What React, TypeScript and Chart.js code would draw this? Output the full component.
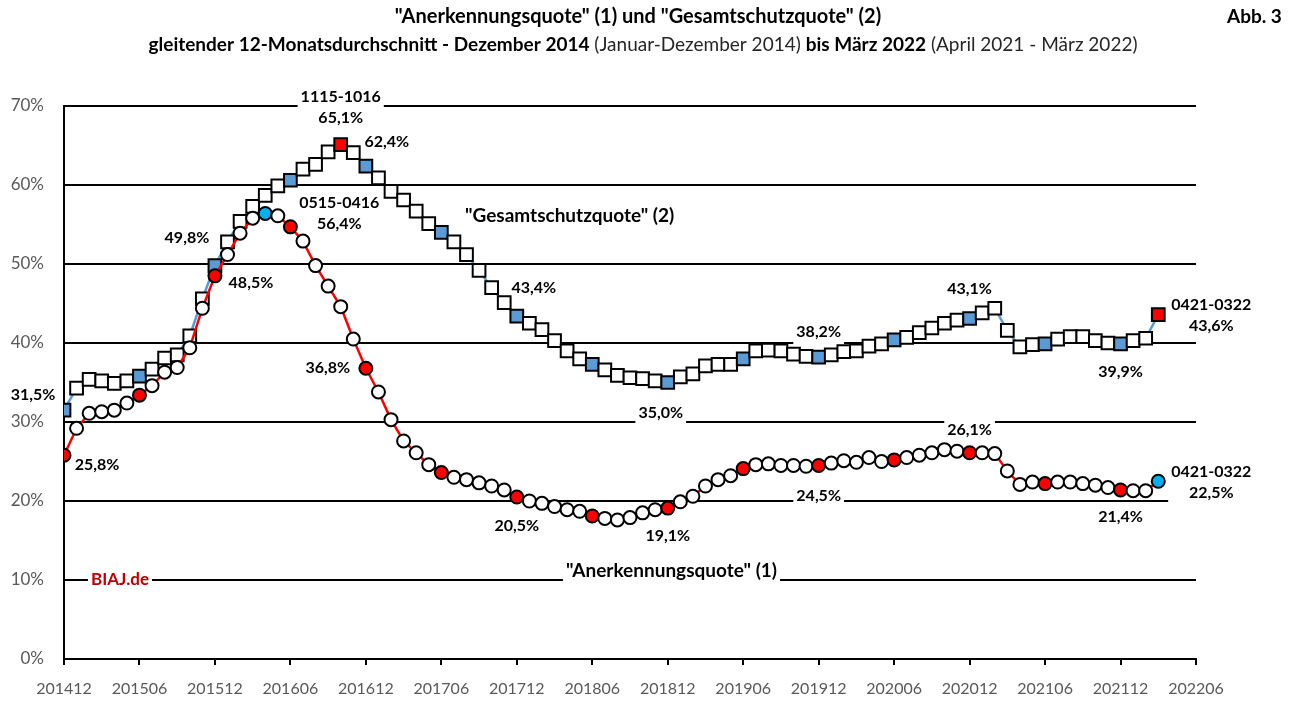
import React, { useEffect, useRef } from "react";
import { Chart, registerables } from "chart.js";

Chart.register(...registerables);

// x axis tick labels (every 6 months, starting 201412 at index 0)
const tickLabels = [
  "201412", "201506", "201512", "201606", "201612", "201706", "201712", "201806",
  "201812", "201906", "201912", "202006", "202012", "202106", "202112", "202206",
];

// "Gesamtschutzquote" (2), monthly from 201412 to 202203
const gesamtschutzquote = [
  31.5, 34.3, 35.4, 35.2, 34.9, 35.2, 35.8, 36.7, 38.1, 38.5,
  40.9, 45.6, 49.8, 52.8, 55.4, 57.3, 58.7, 59.9, 60.6, 62.0,
  62.6, 64.2, 65.1, 64.1, 62.4, 60.9, 59.2, 58.1, 56.7, 55.1,
  54.0, 52.8, 51.2, 49.2, 47.0, 45.1, 43.4, 42.5, 41.7, 40.3,
  39.0, 38.0, 37.3, 36.6, 35.9, 35.6, 35.5, 35.2, 35.0, 35.7,
  36.1, 37.1, 37.3, 37.3, 38.0, 39.0, 39.1, 39.0, 38.6, 38.3,
  38.2, 38.5, 38.9, 39.0, 39.6, 39.9, 40.4, 40.7, 41.3, 41.9,
  42.5, 42.9, 43.1, 43.8, 44.4, 41.6, 39.5, 39.8, 39.9, 40.5,
  40.8, 40.8, 40.3, 40.0, 39.9, 40.3, 40.6, 43.6,
];

// "Anerkennungsquote" (1), monthly from 201412 to 202203
const anerkennungsquote = [
  25.8, 29.2, 31.1, 31.3, 31.5, 32.4, 33.4, 34.6, 36.3, 36.9,
  39.4, 44.4, 48.5, 51.2, 53.9, 55.8, 56.4, 56.1, 54.7, 52.9,
  49.8, 47.2, 44.6, 40.5, 36.8, 33.8, 30.3, 27.6, 26.1, 24.6,
  23.6, 23.0, 22.7, 22.3, 21.9, 21.4, 20.5, 20.0, 19.7, 19.3,
  18.9, 18.7, 18.1, 17.8, 17.6, 17.9, 18.5, 18.9, 19.1, 19.9,
  20.6, 21.9, 22.7, 23.2, 24.1, 24.6, 24.7, 24.5, 24.5, 24.4,
  24.5, 24.8, 25.1, 24.9, 25.5, 25.0, 25.2, 25.5, 25.8, 26.1,
  26.5, 26.3, 26.1, 26.1, 26.0, 23.8, 22.1, 22.4, 22.2, 22.4,
  22.4, 22.2, 22.0, 21.7, 21.4, 21.3, 21.3, 22.5,
];

const gesamtHighlight = [22, 87]; // red squares
const anerkHighlight = [16, 87]; // cyan circles

const BLUE = "#5B9BD5";
const RED = "#FF0000";
const CYAN = "#00B0F0";
const FONT = "Lato, 'Open Sans', sans-serif";

// data labels anchored to points: [series, index, dx, dy, lines]
const pointLabels: [string, number, number, number, string[]][] = [
  ["g", 0, -31, -15, ["31,5%"]],
  ["a", 0, 33, 10, ["25,8%"]],
  ["g", 12, -28, -28, ["49,8%"]],
  ["a", 12, 36, 7, ["48,5%"]],
  ["a", 16, 74, 0, ["0515-0416", "56,4%"]],
  ["g", 22, 0, -37, ["1115-1016", "65,1%"]],
  ["g", 24, 21, -24, ["62,4%"]],
  ["a", 24, -38, 0, ["36,8%"]],
  ["g", 36, 17, -28, ["43,4%"]],
  ["g", 48, -7, 30, ["35,0%"]],
  ["a", 36, 0, 29, ["20,5%"]],
  ["a", 48, 0, 28, ["19,1%"]],
  ["g", 60, 0, -25, ["38,2%"]],
  ["a", 60, 0, 30, ["24,5%"]],
  ["g", 72, 0, -30, ["43,1%"]],
  ["a", 72, 0, -23, ["26,1%"]],
  ["g", 84, 0, 28, ["39,9%"]],
  ["a", 84, 0, 27, ["21,4%"]],
  ["g", 87, 53, 1, ["0421-0322", "43,6%"]],
  ["a", 87, 53, 1, ["0421-0322", "22,5%"]],
];

// free texts placed in data coordinates: [x index, y value, text, color, font size]
const freeTexts: [number, number, string, string, number][] = [
  [40.2, 56.1, "\"Gesamtschutzquote\" (2)", "#000000", 19],
  [48.3, 11.1, "\"Anerkennungsquote\" (1)", "#000000", 19],
  [4.45, 10.0, "BIAJ.de", "#C00000", 17],
];

const drawBoxedText = (
  ctx: CanvasRenderingContext2D, cx: number, cy: number, lines: string[], color: string, size = 16
) => {
  ctx.save();
  ctx.font = `bold ${size}px ${FONT}`;
  const lh = 21;
  const w = Math.max(...lines.map((l) => ctx.measureText(l).width));
  const h = lines.length * lh + 4;
  ctx.fillStyle = "#ffffff";
  ctx.fillRect(cx - w / 2 - 3, cy - h / 2, w + 6, h);
  ctx.fillStyle = color;
  ctx.textAlign = "center";
  ctx.textBaseline = "middle";
  lines.forEach((l, k) => {
    ctx.fillText(l, cx, cy - ((lines.length - 1) * lh) / 2 + k * lh);
  });
  ctx.restore();
};

const labelPlugin = {
  id: "labelPlugin",
  beforeDatasetsDraw(chart: any) {
    const ctx = chart.ctx as CanvasRenderingContext2D;
    const xs = chart.scales.x;
    const ys = chart.scales.y;
    pointLabels.forEach(([s, i, dx, dy, lines]) => {
      const v = s === "g" ? gesamtschutzquote[i] : anerkennungsquote[i];
      drawBoxedText(ctx, xs.getPixelForValue(i) + dx, ys.getPixelForValue(v) + dy, lines, "#000000");
    });
    freeTexts.forEach(([x, y, t, c, sz]) => {
      drawBoxedText(ctx, xs.getPixelForValue(x), ys.getPixelForValue(y), [t], c, sz);
    });
  },
  afterDraw(chart: any) {
    const ctx = chart.ctx as CanvasRenderingContext2D;
    ctx.save();
    ctx.textBaseline = "middle";
    ctx.fillStyle = "#000000";
    ctx.textAlign = "center";
    ctx.font = `bold 20px ${FONT}`;
    ctx.fillText("\"Anerkennungsquote\" (1) und \"Gesamtschutzquote\" (2)", 638, 17);
    ctx.textAlign = "left";
    ctx.font = `bold 19px ${FONT}`;
    ctx.fillText("Abb. 3", 1227, 17);
    const segs: [string, boolean][] = [
      ["gleitender 12-Monatsdurchschnitt - Dezember 2014", true],
      [" (Januar-Dezember 2014) ", false],
      ["bis März 2022", true],
      [" (April 2021 - März 2022)", false],
    ];
    const widths = segs.map(([t, b]) => {
      ctx.font = `${b ? "bold " : ""}19px ${FONT}`;
      return ctx.measureText(t).width;
    });
    const total = widths.reduce((a, b) => a + b, 0);
    let x = 643 - total / 2;
    segs.forEach(([t, b], k) => {
      ctx.font = `${b ? "bold " : ""}19px ${FONT}`;
      ctx.fillStyle = b ? "#000000" : "#262626";
      ctx.fillText(t, x, 45);
      x += widths[k];
    });
    ctx.restore();
  },
};

export default function App() {
  const ref = useRef<HTMLCanvasElement | null>(null);
  useEffect(() => {
    document.body.style.margin = "0";
    const canvas = ref.current!;
    const chart = new Chart(canvas, {
      type: "line",
      data: {
        datasets: [
          {
            label: "Anerkennungsquote",
            data: anerkennungsquote.map((v, i) => ({ x: i, y: v })),
            borderColor: RED,
            borderWidth: 2.5,
            pointStyle: "circle",
            pointRadius: 6.5,
            pointBorderWidth: 2,
            pointBorderColor: "#000000",
            pointBackgroundColor: anerkennungsquote.map((_, i) =>
              anerkHighlight.includes(i) ? CYAN : i % 6 === 0 ? RED : "#ffffff"
            ),
            tension: 0,
          },
          {
            label: "Gesamtschutzquote",
            data: gesamtschutzquote.map((v, i) => ({ x: i, y: v })),
            borderColor: BLUE,
            borderWidth: 2.5,
            pointStyle: "rect",
            pointRadius: 9,
            pointBorderWidth: 2,
            pointBorderColor: "#000000",
            pointBackgroundColor: gesamtschutzquote.map((_, i) =>
              gesamtHighlight.includes(i) ? RED : i % 6 === 0 ? BLUE : "#ffffff"
            ),
            tension: 0,
          },
        ],
      },
      options: {
        responsive: false,
        animation: false,
        events: [],
        layout: { padding: { left: 0, top: 106, right: 98, bottom: 0 } },
        plugins: { legend: { display: false }, title: { display: false }, tooltip: { enabled: false } },
        scales: {
          x: {
            type: "linear",
            min: 0,
            max: 90,
            afterFit: (s: any) => { s.height = 45; },
            afterBuildTicks: (s: any) => {
              s.ticks = tickLabels.map((_, k) => ({ value: k * 6 }));
            },
            ticks: {
              autoSkip: false,
              maxRotation: 0,
              padding: 14,
              color: "#595959",
              font: { family: FONT, size: 16 },
              callback: (v: any) => tickLabels[Math.round(Number(v) / 6)] ?? "",
            },
            grid: { drawOnChartArea: false, drawTicks: true, tickLength: 6, color: "#000000", lineWidth: 2 },
            border: { display: true, color: "#000000", width: 2 },
          },
          y: {
            min: 0,
            max: 70,
            afterFit: (s: any) => { s.width = 64; },
            ticks: {
              stepSize: 10,
              padding: 20,
              color: "#595959",
              font: { family: FONT, size: 17 },
              callback: (v: any) => `${v}%`,
            },
            grid: { drawTicks: false, color: "#000000", lineWidth: 2 },
            border: { display: true, color: "#000000", width: 2 },
          },
        },
      },
      plugins: [labelPlugin],
    } as any);
    return () => chart.destroy();
  }, []);
  return (
    <div style={{ width: 1294, height: 704, background: "#ffffff" }}>
      <canvas ref={ref} width={1294} height={704} style={{ display: "block" }} />
    </div>
  );
}
